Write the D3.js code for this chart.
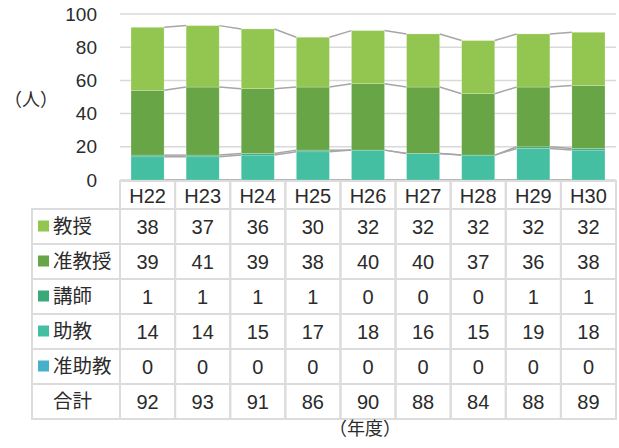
<!DOCTYPE html>
<html>
<head>
<meta charset="utf-8">
<script src="https://cdn.jsdelivr.net/npm/d3@7"></script>
<style>
  body { margin: 0; background: #fff; }
  text { font-family: "Liberation Sans", Arial, "Noto Sans CJK JP", sans-serif; fill: #2b2b2b; }
</style>
</head>
<body>
<svg id="chart" width="619" height="448"></svg>
<script>
// Data
const years = ["H22", "H23", "H24", "H25", "H26", "H27", "H28", "H29", "H30"];
const kyoju = [38, 37, 36, 30, 32, 32, 32, 32, 32];
const junKyoju = [39, 41, 39, 38, 40, 40, 37, 36, 38];
const koshi = [1, 1, 1, 1, 0, 0, 0, 1, 1];
const jokyo = [14, 14, 15, 17, 18, 16, 15, 19, 18];
const junJokyo = [0, 0, 0, 0, 0, 0, 0, 0, 0];
const totals = [92, 93, 91, 86, 90, 88, 84, 88, 89];
const yTicks = [0, 20, 40, 60, 80, 100];

// series listed top row first (table order)
const series = [
  { name: "教授", values: kyoju, color: "#92c650" },
  { name: "准教授", values: junKyoju, color: "#67a546" },
  { name: "講師", values: koshi, color: "#3aa878" },
  { name: "助教", values: jokyo, color: "#44bfa1" },
  { name: "准助教", values: junJokyo, color: "#47b1cc" }
];

const svg = d3.select("#chart");
const plotLeft = 120, plotRight = 616, plotTop = 14, plotBottom = 180;
const fontSize = 19, tableFont = 20;

const x = d3.scaleBand().domain(years).range([plotLeft, plotRight]).paddingInner(0.4).paddingOuter(0.2);
const y = d3.scaleLinear().domain([0, 100]).range([plotBottom, plotTop]);
const colX = d3.scaleBand().domain(years).range([plotLeft, plotRight]);

// Gridlines
svg.append("g").selectAll("line")
  .data(yTicks)
  .enter()
  .append("line")
  .attr("x1", plotLeft).attr("x2", plotRight)
  .attr("y1", d => y(d)).attr("y2", d => y(d))
  .attr("stroke", "#d9d9d9").attr("stroke-width", 1.5);

// Y axis labels
svg.append("g").selectAll("text")
  .data(yTicks)
  .enter()
  .append("text")
  .attr("x", 97)
  .attr("y", d => y(d))
  .attr("dy", "0.35em")
  .attr("text-anchor", "end")
  .style("font-size", fontSize + "px")
  .text(d => d);

svg.append("text")
  .attr("x", 31).attr("y", 100).attr("dy", "0.35em")
  .attr("text-anchor", "middle")
  .style("font-size", "18px")
  .text("（人）");

// Stack (bottom = 准助教)
const stackOrder = series.slice().reverse();
const stackData = years.map((yr, i) => {
  const row = { year: yr };
  stackOrder.forEach(s => { row[s.name] = s.values[i]; });
  return row;
});
const stack = d3.stack().keys(stackOrder.map(s => s.name))(stackData);

// Series lines between bars
stack.forEach(layer => {
  const segs = d3.range(years.length - 1).map(i => [
    [x(years[i]) + x.bandwidth(), y(layer[i][1])],
    [x(years[i + 1]), y(layer[i + 1][1])]
  ]);
  svg.append("g").selectAll("line")
    .data(segs)
    .enter()
    .append("line")
    .attr("x1", d => d[0][0]).attr("y1", d => d[0][1])
    .attr("x2", d => d[1][0]).attr("y2", d => d[1][1])
    .attr("stroke", "#a6a6a6").attr("stroke-width", 1.5);
});

// Bars
stack.forEach((layer, k) => {
  svg.append("g").selectAll("rect")
    .data(layer)
    .enter()
    .append("rect")
    .attr("x", d => x(d.data.year))
    .attr("y", d => y(d[1]))
    .attr("width", x.bandwidth())
    .attr("height", d => y(d[0]) - y(d[1]))
    .attr("fill", stackOrder[k].color)
    .attr("stroke", "#ffffff").attr("stroke-opacity", 0.35).attr("stroke-width", 0.6);
});

// Data table
const headerTop = 181, headerH = 28, rowH = 35, labelLeft = 32;
const rowsTop = headerTop + headerH;
const tableRows = series.map(s => ({ name: s.name, values: s.values, color: s.color }))
  .concat([{ name: "合計", values: totals, color: null }]);
const grid = "#dcdcdc";
const table = svg.append("g");

// header cells
table.selectAll(".hcell")
  .data(years)
  .enter()
  .append("rect")
  .attr("class", "hcell")
  .attr("x", d => colX(d)).attr("y", headerTop)
  .attr("width", colX.bandwidth()).attr("height", headerH)
  .attr("fill", "none").attr("stroke", grid).attr("stroke-width", 2);

table.selectAll(".htext")
  .data(years)
  .enter()
  .append("text")
  .attr("x", d => colX(d) + colX.bandwidth() / 2)
  .attr("y", headerTop + headerH / 2 + 1)
  .attr("dy", "0.35em")
  .attr("text-anchor", "middle")
  .style("font-size", tableFont + "px")
  .text(d => d);

tableRows.forEach((r, i) => {
  const ry = rowsTop + i * rowH;
  table.append("rect")
    .attr("x", labelLeft).attr("y", ry)
    .attr("width", plotLeft - labelLeft).attr("height", rowH)
    .attr("fill", "none").attr("stroke", grid).attr("stroke-width", 2);
  if (r.color) {
    table.append("rect")
      .attr("x", 38).attr("y", ry + rowH / 2 - 6)
      .attr("width", 11).attr("height", 11)
      .attr("fill", r.color);
  }
  table.append("text")
    .attr("x", 53).attr("y", ry + rowH / 2)
    .attr("dy", "0.35em")
    .style("font-size", "19.5px")
    .text(r.name);

  table.append("g").selectAll("rect")
    .data(years)
    .enter()
    .append("rect")
    .attr("x", d => colX(d)).attr("y", ry)
    .attr("width", colX.bandwidth()).attr("height", rowH)
    .attr("fill", "none").attr("stroke", grid).attr("stroke-width", 2);

  table.append("g").selectAll("text")
    .data(r.values)
    .enter()
    .append("text")
    .attr("x", (d, j) => colX(years[j]) + colX.bandwidth() / 2)
    .attr("y", ry + rowH / 2)
    .attr("dy", "0.35em")
    .attr("text-anchor", "middle")
    .style("font-size", tableFont + "px")
    .text(d => d);
});

svg.append("text")
  .attr("x", 365).attr("y", 429).attr("dy", "0.35em")
  .attr("text-anchor", "middle")
  .style("font-size", "18px")
  .text("（年度）");
</script>
</body>
</html>
